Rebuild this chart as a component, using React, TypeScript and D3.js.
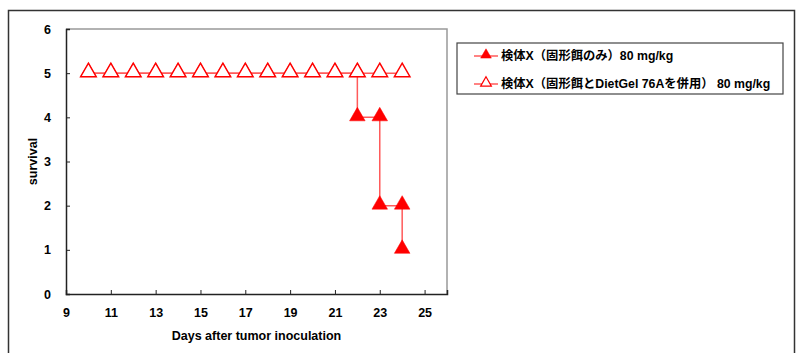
import React, { useEffect, useRef } from "react";
import * as d3 from "d3";

// 検体X (固形餌のみ) – step survival
const daysSolid = [10, 11, 12, 13, 14, 15, 16, 17, 18, 19, 20, 21, 22, 22, 23, 23, 24, 24];
const survSolid = [5, 5, 5, 5, 5, 5, 5, 5, 5, 5, 5, 5, 5, 4, 4, 2, 2, 1];
// 検体X (固形餌とDietGel 76Aを併用)
const daysGel = [10, 11, 12, 13, 14, 15, 16, 17, 18, 19, 20, 21, 22, 23, 24];
const survGel = [5, 5, 5, 5, 5, 5, 5, 5, 5, 5, 5, 5, 5, 5, 5];

const xTicks = [9, 11, 13, 15, 17, 19, 21, 23, 25];
const yTicks = [0, 1, 2, 3, 4, 5, 6];
const legendLabels = [
  "検体X（固形餌のみ）80 mg/kg",
  "検体X（固形餌とDietGel 76Aを併用） 80 mg/kg",
];

const FONT = "'Liberation Sans', Arial, 'Noto Sans CJK JP', sans-serif";

export default function App() {
  const svgRef = useRef<SVGSVGElement>(null);

  useEffect(() => {
    const svg = d3.select(svgRef.current);
    svg.selectAll("*").remove();

    const left = 66, right = 447, top = 29, bottom = 294;
    const x = d3.scaleLinear().domain([9, 26]).range([left, right]);
    const y = d3.scaleLinear().domain([0, 6]).range([bottom, top]);

    // outer frame
    svg.append("rect")
      .attr("x", 8.5).attr("y", 10.5).attr("width", 786).attr("height", 360)
      .attr("fill", "white").attr("stroke", "#333").attr("stroke-width", 1.5);

    // plot frame: gray top and right
    svg.append("path")
      .attr("d", `M${left},${top}H${right}V${bottom}`)
      .attr("fill", "none").attr("stroke", "#999").attr("stroke-width", 1.5);

    const yAxis = d3.axisLeft(y).tickValues(yTicks).tickSize(-4).tickPadding(14).tickFormat(d3.format("d"));
    const gy = svg.append("g").attr("transform", `translate(${left},0)`).call(yAxis);
    const xAxis = d3.axisBottom(x).tickValues(xTicks).tickSize(-4).tickPadding(14).tickFormat(d3.format("d"));
    const gx = svg.append("g").attr("transform", `translate(0,${bottom})`).call(xAxis);
    [gx, gy].forEach(g => {
      g.select(".domain").attr("stroke", "#222").attr("stroke-width", 1.5);
      g.selectAll(".tick line").attr("stroke", "#222");
      g.selectAll(".tick text")
        .attr("font-family", FONT).attr("font-weight", "bold").attr("font-size", 12.5).attr("fill", "#000");
    });
    gy.selectAll(".tick text").attr("dx", -1);
    gx.selectAll(".tick text").attr("dy", "0.71em");

    svg.append("text")
      .attr("x", (x(9) + x(26)) / 2).attr("y", 340).attr("text-anchor", "middle")
      .attr("font-family", FONT).attr("font-weight", "bold").attr("font-size", 12.5)
      .text("Days after tumor inoculation");
    svg.append("text")
      .attr("transform", `translate(37,${(top + bottom) / 2}) rotate(-90)`)
      .attr("text-anchor", "middle")
      .attr("font-family", FONT).attr("font-weight", "bold").attr("font-size", 12.5)
      .text("survival");

    const tri = d3.symbol().type(d3.symbolTriangle).size(105);

    const drawSeries = (days: number[], vals: number[], filled: boolean) => {
      const pts = days.map((d, i) => [x(d), y(vals[i])] as [number, number]);
      svg.append("path")
        .attr("d", d3.line()(pts))
        .attr("fill", "none").attr("stroke", "#ff5a5a").attr("stroke-width", 1.5);
      svg.append("g").selectAll("path").data(pts).join("path")
        .attr("transform", p => `translate(${p[0]},${p[1] - 1})`)
        .attr("d", tri)
        .attr("fill", filled ? "#ff0000" : "white")
        .attr("stroke", "#ff0000").attr("stroke-width", filled ? 0.5 : 1.5);
    };
    drawSeries(daysSolid, survSolid, true);
    drawSeries(daysGel, survGel, false);

    // legend
    const lg = svg.append("g");
    lg.append("rect")
      .attr("x", 457).attr("y", 43).attr("width", 326).attr("height", 51)
      .attr("fill", "white").attr("stroke", "#444").attr("stroke-width", 1.2);
    legendLabels.forEach((lab, i) => {
      const ly = 56 + i * 28;
      lg.append("line").attr("x1", 474).attr("x2", 498).attr("y1", ly).attr("y2", ly)
        .attr("stroke", "#ff5a5a").attr("stroke-width", 1.5);
      lg.append("path").attr("transform", `translate(486,${ly - 1})`)
        .attr("d", d3.symbol().type(d3.symbolTriangle).size(50))
        .attr("fill", i === 0 ? "#ff0000" : "white")
        .attr("stroke", "#ff0000").attr("stroke-width", i === 0 ? 0.5 : 1.2);
      lg.append("text").attr("x", 501).attr("y", ly).attr("dy", "0.35em")
        .attr("font-family", FONT).attr("font-weight", "bold").attr("font-size", 12.3)
        .text(lab);
    });
  }, []);

  return (
    <div style={{ position: "absolute", left: 0, top: 0 }}>
      <svg ref={svgRef} width={800} height={353} style={{ display: "block" }} />
    </div>
  );
}
